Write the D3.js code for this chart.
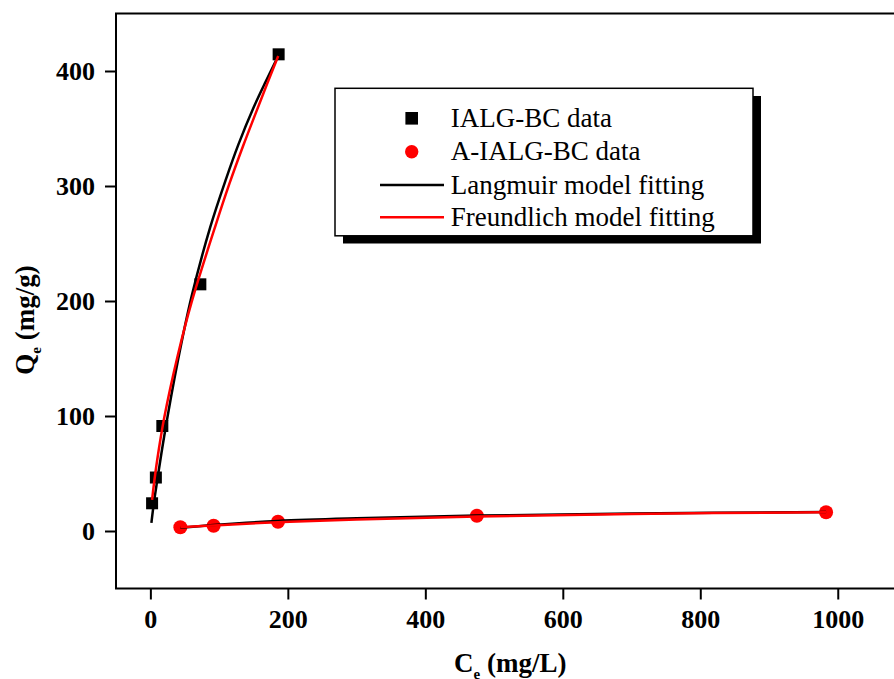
<!DOCTYPE html>
<html>
<head>
<meta charset="utf-8">
<script src="https://cdn.jsdelivr.net/npm/d3@7"></script>
<style>
  html, body { margin: 0; padding: 0; background: #fff; overflow: hidden; }
  svg { display: block; }
  text { font-family: "Liberation Serif", "Times New Roman", serif; }
</style>
</head>
<body>
<script>
// --- data ---
const xTicks = [0, 200, 400, 600, 800, 1000];
const yTicks = [0, 100, 200, 300, 400];

// IALG-BC data (Ce, Qe)
const ialgData = [[2.5, 24.1], [8, 46.5], [17.4, 91.3], [72.7, 214.5], [186.6, 414.5]];
// A-IALG-BC data (Ce, Qe)
const aialgData = [[43.6, 3.2], [92, 4.6], [185.7, 8.1], [475, 13.3], [983, 16.3]];

// fitted curves
const ialgLangmuir = [[1.5, 7], [5, 24], [10, 44], [20, 82], [40, 148], [60, 204], [87, 264], [110, 306], [128, 336], [150, 368], [168, 391], [186, 413]];
const ialgFreundlich = [[2.5, 27], [5, 40], [10, 62], [20, 98], [40, 153], [60, 199], [95, 266], [115, 302], [135, 335], [155, 366], [170, 389], [186, 413]];
const aialgLangmuir = [[43.6, 2.8], [92, 5.2], [186, 8.7], [300, 11.0], [475, 13.4], [700, 15.2], [983, 16.6]];
const aialgFreundlich = [[43.6, 3.2], [92, 4.8], [186, 7.7], [300, 10.0], [475, 12.7], [700, 14.8], [983, 16.4]];

const legendItems = ["IALG-BC data", "A-IALG-BC data", "Langmuir model fitting", "Freundlich model fitting"];

const W = 894, H = 679;
const margin = { top: 13.5, left: 116 };
const width = 790.5, height = 575;

const svg = d3.select('body').append('svg')
  .attr('width', W).attr('height', H);

const x = d3.scaleLinear().domain([-50, 1100]).range([margin.left, margin.left + width]);
const y = d3.scaleLinear().domain([-50, 450]).range([margin.top + height, margin.top]);

// plot frame
svg.append('rect')
  .attr('x', margin.left).attr('y', margin.top)
  .attr('width', width).attr('height', height)
  .attr('fill', 'none').attr('stroke', '#000').attr('stroke-width', 2);

// axes
const xAxis = svg.append('g')
  .attr('transform', `translate(0,${margin.top + height})`)
  .call(d3.axisBottom(x).tickValues(xTicks).tickFormat(d3.format('d'))
    .tickSize(11).tickSizeOuter(0).tickPadding(10));
const yAxis = svg.append('g')
  .attr('transform', `translate(${margin.left},0)`)
  .call(d3.axisLeft(y).tickValues(yTicks).tickFormat(d3.format('d'))
    .tickSize(11).tickSizeOuter(0).tickPadding(10));

[xAxis, yAxis].forEach(g => {
  g.select('.domain').remove();
  g.selectAll('line').attr('stroke', '#000').attr('stroke-width', 2);
  g.selectAll('text')
    .attr('fill', '#000')
    .style('font-family', '"Liberation Serif", "Times New Roman", serif')
    .style('font-size', '26px').style('font-weight', 'bold');
});

// markers
svg.append('g').selectAll('rect')
  .data(ialgData).enter().append('rect')
  .attr('x', d => x(d[0]) - 6).attr('y', d => y(d[1]) - 6)
  .attr('width', 12).attr('height', 12).attr('fill', '#000');

svg.append('g').selectAll('circle')
  .data(aialgData).enter().append('circle')
  .attr('cx', d => x(d[0])).attr('cy', d => y(d[1]))
  .attr('r', 7).attr('fill', '#ff0000');

// fitted curves
const line = d3.line().x(d => x(d[0])).y(d => y(d[1])).curve(d3.curveCatmullRom.alpha(0.5));
[[ialgLangmuir, '#000'], [aialgLangmuir, '#000'], [ialgFreundlich, '#ff0000'], [aialgFreundlich, '#ff0000']]
  .forEach(([data, color]) => {
    svg.append('path').datum(data)
      .attr('d', line).attr('fill', 'none')
      .attr('stroke', color).attr('stroke-width', 2.5);
  });

// axis titles
const xt = svg.append('text')
  .attr('x', margin.left + width / 2 - 1).attr('y', 671.7)
  .attr('text-anchor', 'middle')
  .style('font-size', '27px').style('font-weight', 'bold');
xt.append('tspan').text('C');
xt.append('tspan').attr('dy', 7).style('font-size', '15px').text('e');
xt.append('tspan').attr('dy', -7).text(' (mg/L)');

const yt = svg.append('text')
  .attr('transform', 'translate(34,320) rotate(-90)')
  .attr('text-anchor', 'middle')
  .style('font-size', '27px').style('font-weight', 'bold');
yt.append('tspan').text('Q');
yt.append('tspan').attr('dy', 7).style('font-size', '15px').text('e');
yt.append('tspan').attr('dy', -7).text(' (mg/g)');

// legend
const lg = svg.append('g');
lg.append('rect').attr('x', 343).attr('y', 96).attr('width', 418).attr('height', 147.5).attr('fill', '#000');
lg.append('rect').attr('x', 335).attr('y', 88.3).attr('width', 418).attr('height', 147.5)
  .attr('fill', '#fff').attr('stroke', '#000').attr('stroke-width', 1.5);

const rowY = [118.3, 151.7, 185, 217.3];
lg.append('rect').attr('x', 411.7 - 6.3).attr('y', rowY[0] - 6.3).attr('width', 12.6).attr('height', 12.6).attr('fill', '#000');
lg.append('circle').attr('cx', 411.7).attr('cy', rowY[1]).attr('r', 6.7).attr('fill', '#ff0000');
lg.append('line').attr('x1', 380).attr('x2', 444).attr('y1', rowY[2]).attr('y2', rowY[2]).attr('stroke', '#000').attr('stroke-width', 2.5);
lg.append('line').attr('x1', 380).attr('x2', 444).attr('y1', rowY[3]).attr('y2', rowY[3]).attr('stroke', '#ff0000').attr('stroke-width', 2.5);

lg.selectAll('text.leg').data(legendItems).enter().append('text')
  .attr('class', 'leg')
  .attr('x', 450.7).attr('y', (d, i) => rowY[i] + 8.5)
  .style('font-size', '27px')
  .text(d => d);
</script>
</body>
</html>
